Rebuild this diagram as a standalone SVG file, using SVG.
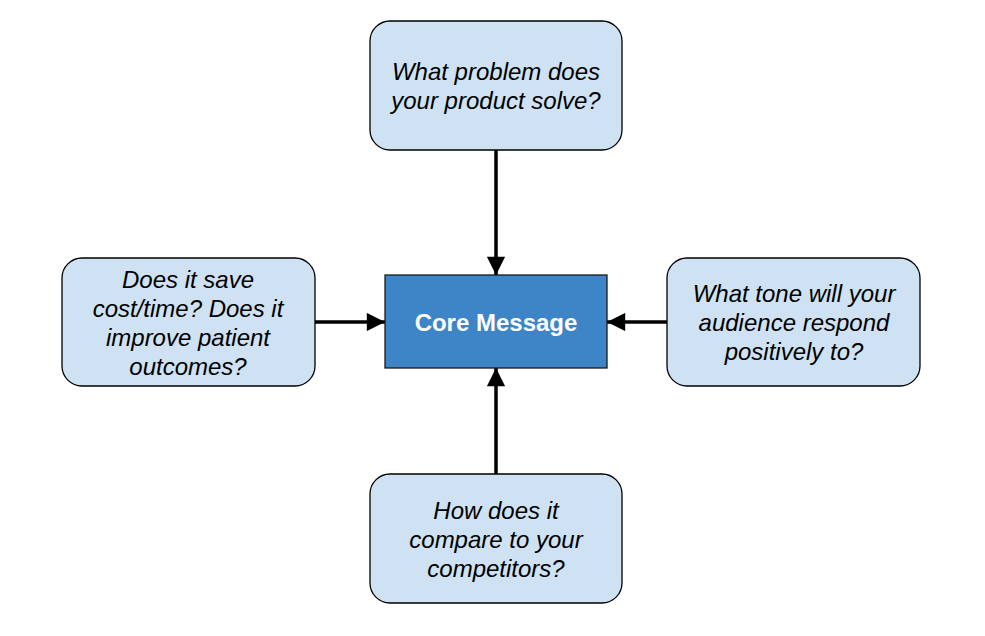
<svg xmlns="http://www.w3.org/2000/svg" width="985" height="636" viewBox="0 0 985 636">
<style>
.q{fill:#cfe2f3;stroke:#000;stroke-width:1.3}
.t{font-family:"Liberation Sans",Arial,sans-serif;font-style:italic;font-size:24px;fill:#000;text-anchor:middle}
.c{font-family:"Liberation Sans",Arial,sans-serif;font-weight:bold;font-size:24px;fill:#fff;text-anchor:middle}
.e{stroke:#000;stroke-width:3.5;fill:none}
</style>
<defs>
<marker id="ah" viewBox="0 0 10 10" refX="10" refY="5" markerWidth="7.4" markerHeight="5.2" markerUnits="strokeWidth" orient="auto">
<path d="M0,0L10,5L0,10z" fill="#000"/>
</marker>
</defs>
<rect width="985" height="636" fill="#fff"/>
<g id="connectors">
<line class="e" x1="496" y1="150" x2="496" y2="275" marker-end="url(#ah)"/>
<line class="e" x1="315" y1="322" x2="385" y2="322" marker-end="url(#ah)"/>
<line class="e" x1="667" y1="322" x2="607" y2="322" marker-end="url(#ah)"/>
<line class="e" x1="496" y1="474" x2="496" y2="368" marker-end="url(#ah)"/>
</g>
<g id="top">
<rect class="q" x="370" y="21" width="252" height="129" rx="20"/>
<text class="t" x="496" y="80">What problem does</text>
<text class="t" x="496" y="109">your product solve?</text>
</g>
<g id="core">
<rect x="385" y="275" width="222" height="93" fill="#3d85c6" stroke="#1a1a1a" stroke-width="1.3"/>
<text class="c" x="496" y="331">Core Message</text>
</g>
<g id="left">
<rect class="q" x="62" y="258" width="253" height="128" rx="20"/>
<text class="t" x="188" y="288">Does it save</text>
<text class="t" x="188" y="317">cost/time? Does it</text>
<text class="t" x="188" y="346">improve patient</text>
<text class="t" x="188" y="375">outcomes?</text>
</g>
<g id="right">
<rect class="q" x="667" y="258" width="253" height="128" rx="20"/>
<text class="t" x="794" y="302">What tone will your</text>
<text class="t" x="794" y="331">audience respond</text>
<text class="t" x="794" y="360">positively to?</text>
</g>
<g id="bottom">
<rect class="q" x="370" y="474" width="252" height="129" rx="20"/>
<text class="t" x="496" y="519">How does it</text>
<text class="t" x="496" y="548">compare to your</text>
<text class="t" x="496" y="577">competitors?</text>
</g>
</svg>
